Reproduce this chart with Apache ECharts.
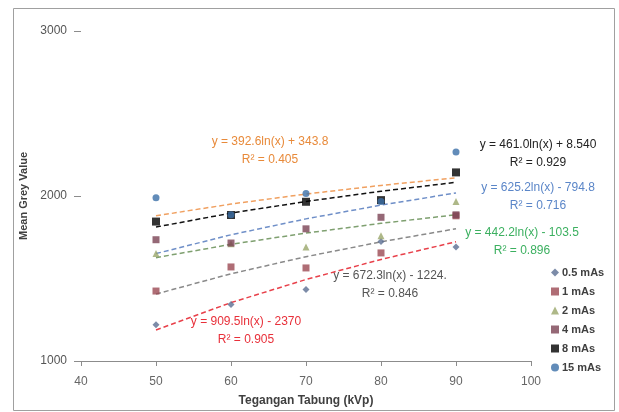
<!DOCTYPE html>
<html><head><meta charset="utf-8">
<script src="https://cdn.jsdelivr.net/npm/echarts@6/dist/echarts.min.js"></script>
<style>html,body{margin:0;padding:0;background:#fff;}#c{width:619px;height:412px;}</style>
</head><body><div id="c"></div>
<script>
// ---- data ----
const kvp = [50, 60, 70, 80, 90];
const seriesNames = ['0.5 mAs', '1 mAs', '2 mAs', '4 mAs', '8 mAs', '15 mAs'];
const v05 = [1219, 1343, 1434, 1725, 1691];
const v1  = [1424, 1570, 1564, 1655, 1880];
const v2  = [1651, 1710, 1691, 1759, 1966];
const v4  = [1735, 1715, 1801, 1871, 1886];
const v8  = [1845, 1885, 1965, 1975, 2143];
const v15 = [1990, 1886, 2015, 1966, 2267];
// trendline coefficients shown on the chart: y = a ln(x) + b
const trendA = [909.5, 672.3, 442.2, 625.2, 461.0, 392.6];
const trendB = [-2370, -1224, -103.5, -794.8, 8.540, 343.8];
const trendEq = ['y = 909.5ln(x) - 2370', 'y = 672.3ln(x) - 1224.', 'y = 442.2ln(x) - 103.5',
                 'y = 625.2ln(x) - 794.8', 'y = 461.0ln(x) + 8.540', 'y = 392.6ln(x) + 343.8'];
const trendR2 = ['R² = 0.905', 'R² = 0.846', 'R² = 0.896', 'R² = 0.716', 'R² = 0.929', 'R² = 0.405'];
const xTicks = [40, 50, 60, 70, 80, 90, 100];
const yTicks = [1000, 2000, 3000];

const values = [v05, v1, v2, v4, v8, v15];
const markerColors = ['#5b6e92', '#9b4852', '#9aa66a', '#7a4254', '#000000', '#3b6fa8'];
const symbols = ['diamond', 'rect', 'triangle', 'rect', 'rect', 'circle'];
const sizes = [7, 7, 7, 7, 8, 7];
const lineColors = ['#e8404a', '#8a8a8a', '#7fa070', '#6f8fc8', '#111111', '#f0a060'];
const labelColors = ['#e8303a', '#555555', '#3cb060', '#5b86c8', '#222222', '#e88a3a'];
const labelPos = [[246, 322], [390, 276], [522, 233], [538, 188], [538, 145], [270, 142]];

const chart = echarts.init(document.getElementById('c'));
const series = [];
values.forEach((vals, i) => {
  series.push({
    name: seriesNames[i], type: 'scatter', symbol: symbols[i], symbolSize: sizes[i],
    itemStyle: {color: markerColors[i]}, z: 3,
    data: kvp.map((x, j) => [x, vals[j]])
  });
});
values.forEach((vals, i) => {
  series.push({
    name: 'trend' + i, type: 'line', showSymbol: false, symbol: 'none', smooth: false, z: 2,
    lineStyle: {color: lineColors[i], width: 1.5, type: [5, 3]},
    data: kvp.map(x => [x, trendA[i] * Math.log(x) + trendB[i]]),
    silent: true
  });
});
const graphics = [{type: 'rect', shape: {x: 13.5, y: 8.5, width: 601, height: 402}, style: {fill: 'none', stroke: '#a0a0a0', lineWidth: 1}}];
labelPos.forEach((p, i) => {
  graphics.push({type: 'text', x: p[0], y: p[1], style: {text: trendEq[i], fill: labelColors[i], font: '12px "Liberation Sans", Arial, sans-serif', align: 'center', verticalAlign: 'middle'}});
  graphics.push({type: 'text', x: p[0], y: p[1] + 18, style: {text: trendR2[i], fill: labelColors[i], font: '12px "Liberation Sans", Arial, sans-serif', align: 'center', verticalAlign: 'middle'}});
});

chart.setOption({
  animation: false,
  backgroundColor: '#fff',
  grid: {left: 81, right: 88, top: 31, bottom: 50, containLabel: false},
  xAxis: {type: 'value', min: xTicks[0], max: xTicks[xTicks.length - 1], interval: 10,
    name: 'Tegangan Tabung (kVp)', nameLocation: 'middle', nameGap: 34,
    nameTextStyle: {fontSize: 12, fontWeight: 'bold', color: '#404040', fontFamily: 'Liberation Sans'},
    axisLine: {show: true, lineStyle: {color: '#8c8c8c', width: 1}},
    axisTick: {show: true, length: 5, lineStyle: {color: '#8c8c8c'}},
    axisLabel: {color: '#666', fontSize: 12, margin: 15, fontFamily: 'Liberation Sans', formatter: v => String(v)},
    splitLine: {show: false}},
  yAxis: {type: 'value', min: yTicks[0], max: yTicks[yTicks.length - 1], interval: 1000,
    name: 'Mean Grey Value', nameLocation: 'middle', nameGap: 50, nameRotate: 90,
    nameTextStyle: {fontSize: 11, fontWeight: 'bold', color: '#404040', fontFamily: 'Liberation Sans'},
    axisLine: {show: false},
    axisTick: {show: true, length: 7, lineStyle: {color: '#8c8c8c'}},
    axisLabel: {color: '#555', fontSize: 12, margin: 14, fontFamily: 'Liberation Sans', formatter: v => String(v)},
    splitLine: {show: false}},
  legend: {data: seriesNames.map((n, i) => ({name: n, icon: symbols[i]})),
    orient: 'vertical', left: 546, top: 262, itemGap: 8, itemWidth: 8, itemHeight: 8,
    textStyle: {fontSize: 11, fontWeight: 'bold', color: '#404040', fontFamily: 'Liberation Sans', padding: [0, 0, 0, -2]},
    selectedMode: false},
  series: series,
  graphic: graphics
});
</script></body></html>
